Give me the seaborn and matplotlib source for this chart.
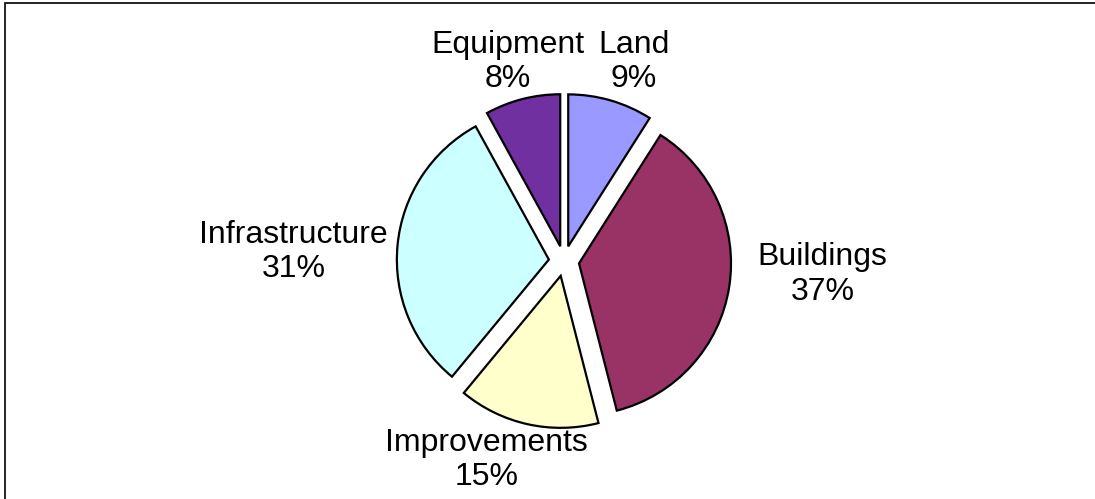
import matplotlib
matplotlib.use('Agg')
import matplotlib.pyplot as plt
import seaborn as sns
from matplotlib.patches import Rectangle

# Data
categories = ['Land', 'Buildings', 'Improvements', 'Infrastructure', 'Equipment']
shares = [9, 37, 15, 31, 8]
colors = ['#9999FF', '#993366', '#FFFFCC', '#CCFFFF', '#7030A0']

sns.set_theme(style='white')
plt.rcParams['font.family'] = ['Liberation Sans', 'DejaVu Sans']

fig = plt.figure(figsize=(10.95, 4.99), dpi=100)
fig.patch.set_facecolor('white')

# axes sized so the pie sits where it does in the reference
W, H = 1095, 499
half = 190
cx, cy = 564, 261
ax = fig.add_axes([(cx - half) / W, (H - cy - half) / H, 2 * half / W, 2 * half / H])

wedges, _ = ax.pie(shares, colors=colors, startangle=90, counterclock=False,
                   explode=[0.1] * len(shares),
                   wedgeprops={'edgecolor': 'black', 'linewidth': 1.6})
ax.set_xlim(-1.25, 1.25)
ax.set_ylim(-1.25, 1.25)
ax.set_aspect('equal')
ax.axis('off')

# label placement (Excel-style)
label_pos = [(0.46, 1.31), (1.70, -0.09), (-0.51, -1.31), (-1.78, 0.06), (-0.37, 1.31)]
for name, val, (x, y) in zip(categories, shares, label_pos):
    ax.text(x, y, f'{name}\n{val}%', ha='center', va='center', fontsize=23,
            color='black', linespacing=1.2)

# chart frame (partly cropped in the reference)
fig.patches.append(Rectangle((5 / W, -0.1), 1.2, 1.1 - 3 / H,
                             transform=fig.transFigure, fill=False,
                             edgecolor='black', linewidth=1.2))

fig.savefig('out.png', dpi=100, facecolor='white')
